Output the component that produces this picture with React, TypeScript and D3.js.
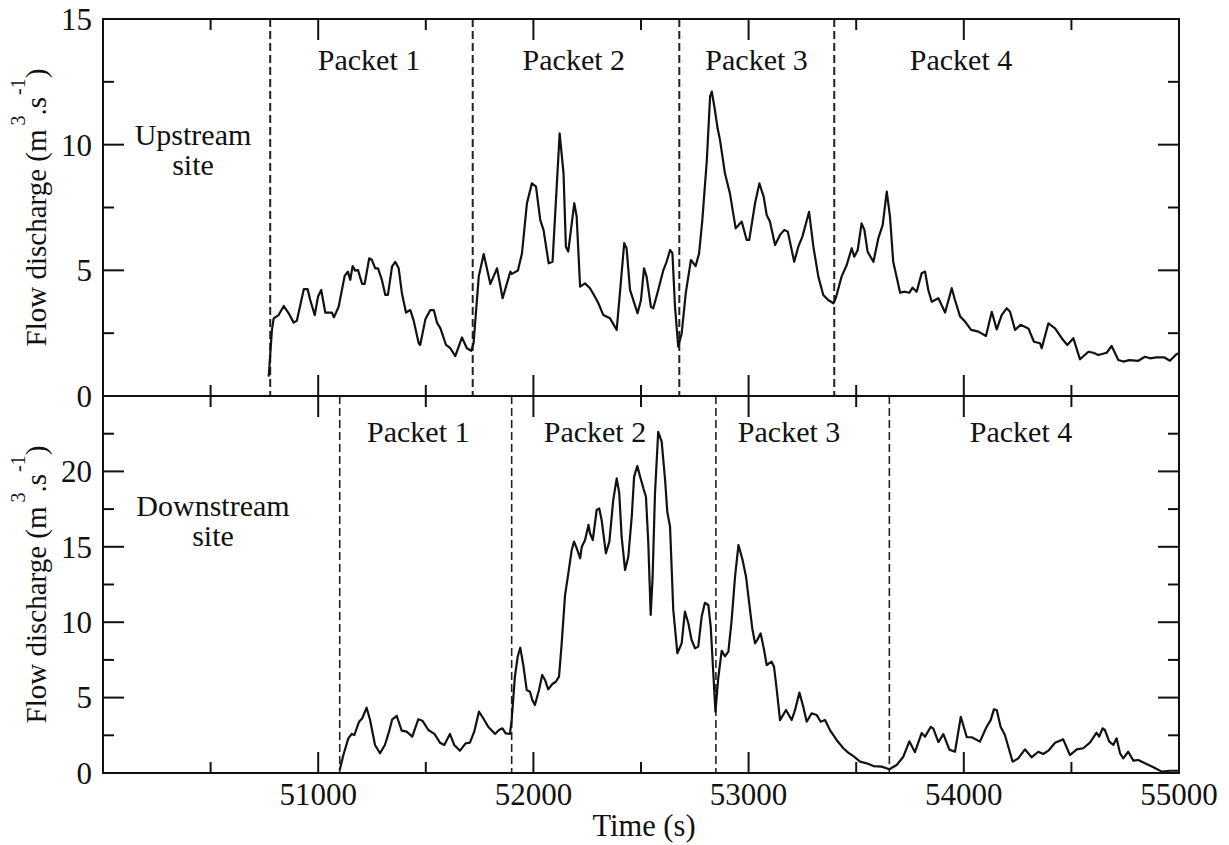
import React from "react";
import * as d3 from "d3";

const upstream: [number, number][] = [
  [50770, 0.77], [50785, 2.63], [50793, 3.09], [50816, 3.22], [50840, 3.58], [50863, 3.29],
  [50886, 2.92], [50901, 3.0], [50933, 4.25], [50951, 4.25], [50963, 3.82], [50984, 3.22],
  [50999, 3.95], [51014, 4.22], [51033, 3.32], [51064, 3.32], [51073, 3.13], [51095, 3.55],
  [51123, 4.78], [51138, 4.95], [51149, 4.62], [51160, 5.17], [51172, 4.99], [51185, 5.01],
  [51204, 4.46], [51216, 4.46], [51237, 5.48], [51250, 5.41], [51265, 5.08], [51278, 5.08],
  [51296, 4.62], [51312, 4.02], [51324, 4.02], [51343, 5.15], [51358, 5.34], [51374, 5.08],
  [51389, 4.09], [51408, 3.32], [51428, 3.42], [51443, 3.02], [51467, 2.1], [51474, 2.03],
  [51498, 3.05], [51521, 3.42], [51537, 3.42], [51552, 2.92], [51568, 2.69], [51594, 2.03],
  [51614, 1.9], [51637, 1.59], [51668, 2.33], [51691, 1.9], [51711, 1.8], [51722, 2.1],
  [51746, 4.75], [51769, 5.65], [51800, 4.46], [51831, 5.08], [51857, 3.89], [51893, 4.95],
  [51900, 4.86], [51928, 4.99], [51947, 5.68], [51970, 7.67], [51993, 8.46], [52012, 8.33],
  [52032, 7.0], [52047, 6.61], [52071, 5.28], [52089, 5.34], [52122, 10.45], [52140, 8.86],
  [52151, 5.94], [52162, 5.75], [52190, 7.67], [52201, 7.14], [52217, 4.35], [52240, 4.48],
  [52263, 4.29], [52286, 3.95], [52302, 3.69], [52325, 3.22], [52356, 3.09], [52387, 2.63],
  [52402, 4.09], [52422, 6.08], [52433, 5.88], [52449, 4.22], [52484, 3.29], [52500, 3.82],
  [52514, 5.08], [52526, 4.75], [52546, 3.55], [52557, 3.49], [52580, 4.22], [52604, 5.01],
  [52619, 5.34], [52635, 5.81], [52646, 5.68], [52658, 3.55], [52673, 1.96], [52689, 2.49],
  [52708, 4.09], [52732, 5.41], [52754, 5.17], [52770, 5.68], [52785, 7.0], [52806, 9.39],
  [52821, 11.91], [52829, 12.11], [52841, 11.51], [52856, 10.65], [52867, 10.19], [52890, 8.86],
  [52913, 8.07], [52940, 6.67], [52968, 6.94], [52991, 6.21], [53003, 6.21], [53030, 7.67],
  [53050, 8.46], [53070, 7.93], [53084, 7.2], [53099, 6.94], [53123, 6.01], [53146, 6.41],
  [53166, 6.61], [53182, 6.54], [53212, 5.34], [53231, 5.94], [53250, 6.34], [53281, 7.33],
  [53301, 5.94], [53324, 4.75], [53347, 4.02], [53370, 3.82], [53394, 3.69], [53405, 3.89],
  [53432, 4.75], [53456, 5.21], [53479, 5.88], [53491, 5.54], [53507, 5.81], [53525, 6.87],
  [53538, 6.61], [53553, 5.74], [53580, 5.34], [53603, 6.28], [53623, 6.8], [53642, 8.13],
  [53657, 7.14], [53672, 5.34], [53691, 4.62], [53704, 4.11], [53727, 4.15], [53747, 4.11],
  [53762, 4.31], [53781, 4.15], [53804, 4.88], [53820, 4.95], [53835, 4.22], [53851, 3.75],
  [53882, 3.89], [53913, 3.32], [53944, 4.29], [53959, 3.82], [53983, 3.16], [54006, 2.96],
  [54034, 2.63], [54068, 2.56], [54103, 2.39], [54130, 3.35], [54153, 2.65], [54176, 3.22],
  [54199, 3.49], [54215, 3.35], [54238, 2.63], [54264, 2.83], [54300, 2.69], [54326, 2.16],
  [54354, 2.1], [54362, 1.9], [54393, 2.89], [54424, 2.69], [54455, 2.3], [54481, 2.03],
  [54509, 2.3], [54540, 1.46], [54579, 1.76], [54602, 1.72], [54625, 1.63], [54664, 1.72],
  [54687, 1.99], [54718, 1.43], [54741, 1.37], [54769, 1.43], [54811, 1.4], [54842, 1.56],
  [54865, 1.5], [54896, 1.54], [54930, 1.54], [54958, 1.4], [54989, 1.67], [55000, 1.7],
];

const downstream: [number, number][] = [
  [51100, 0.2], [51117, 1.19], [51140, 2.3], [51156, 2.59], [51168, 2.52], [51190, 3.4],
  [51205, 3.63], [51225, 4.33], [51241, 3.51], [51264, 1.86], [51287, 1.31], [51310, 1.86],
  [51329, 2.74], [51344, 3.56], [51365, 3.78], [51388, 2.81], [51411, 2.74], [51437, 2.41],
  [51465, 3.56], [51484, 3.47], [51512, 2.85], [51540, 2.59], [51566, 2.01], [51586, 1.86],
  [51612, 2.59], [51632, 1.86], [51659, 1.48], [51685, 1.97], [51705, 2.01], [51725, 2.74],
  [51747, 4.07], [51767, 3.63], [51790, 3.07], [51822, 2.59], [51840, 2.85], [51856, 2.96],
  [51871, 2.63], [51891, 2.59], [51899, 3.51], [51914, 6.39], [51927, 7.71], [51939, 8.31],
  [51953, 7.16], [51969, 5.5], [51984, 5.39], [51995, 4.84], [52007, 4.51], [52026, 5.5],
  [52041, 6.5], [52054, 6.17], [52069, 5.55], [52088, 5.9], [52104, 6.05], [52119, 6.39],
  [52131, 8.5], [52147, 11.8], [52162, 13.2], [52178, 14.79], [52189, 15.34], [52204, 14.79],
  [52217, 14.24], [52225, 15.01], [52240, 15.45], [52256, 16.45], [52263, 15.9], [52276, 15.45],
  [52294, 17.44], [52306, 17.55], [52317, 16.78], [52337, 14.57], [52353, 15.34], [52371, 18.1],
  [52387, 19.54], [52399, 18.55], [52410, 15.67], [52426, 13.46], [52441, 14.34], [52457, 17.0],
  [52468, 19.65], [52483, 20.36], [52496, 19.65], [52511, 18.88], [52523, 18.32], [52534, 15.23],
  [52545, 10.48], [52554, 13.02], [52565, 18.55], [52580, 22.63], [52596, 21.97], [52612, 19.43],
  [52622, 17.33], [52635, 16.33], [52650, 10.81], [52669, 7.94], [52689, 8.6], [52704, 10.7],
  [52720, 9.93], [52735, 8.82], [52751, 8.27], [52766, 8.38], [52782, 10.37], [52797, 11.29],
  [52813, 11.14], [52824, 9.7], [52836, 6.61], [52846, 4.07], [52859, 6.3], [52875, 8.1],
  [52890, 7.74], [52906, 8.05], [52921, 10.1], [52937, 13.02], [52953, 15.12], [52972, 14.12],
  [52988, 13.02], [53003, 11.25], [53017, 9.6], [53030, 8.6], [53040, 8.82], [53056, 9.26],
  [53072, 8.16], [53084, 7.16], [53107, 7.38], [53118, 7.05], [53131, 5.5], [53146, 3.51],
  [53174, 4.18], [53200, 3.51], [53216, 4.18], [53236, 5.33], [53254, 4.4], [53270, 3.4],
  [53293, 3.96], [53316, 3.85], [53335, 3.4], [53355, 3.51], [53378, 2.85], [53409, 2.19],
  [53440, 1.64], [53463, 1.35], [53490, 1.08], [53518, 0.75], [53549, 0.64], [53580, 0.46],
  [53618, 0.42], [53654, 0.25], [53688, 0.53], [53719, 1.08], [53747, 2.1], [53773, 1.38],
  [53804, 2.65], [53820, 2.41], [53846, 3.05], [53858, 2.96], [53882, 2.05], [53905, 2.58],
  [53933, 1.55], [53959, 1.41], [53986, 3.73], [54014, 2.37], [54037, 2.37], [54075, 2.08],
  [54106, 3.07], [54125, 3.51], [54140, 4.22], [54153, 4.18], [54171, 3.07], [54191, 2.52],
  [54227, 0.75], [54253, 0.97], [54284, 1.57], [54315, 1.04], [54346, 1.41], [54369, 1.26],
  [54393, 1.48], [54424, 2.01], [54462, 2.23], [54493, 1.19], [54525, 1.57], [54555, 1.64],
  [54586, 2.01], [54617, 2.67], [54629, 2.41], [54645, 2.96], [54656, 2.85], [54676, 2.08],
  [54695, 1.86], [54710, 2.3], [54726, 1.31], [54741, 0.97], [54764, 1.41], [54788, 0.82],
  [54811, 0.86], [54842, 0.64], [54881, 0.38], [54920, 0.09], [54958, 0.15], [54981, 0.15],
  [55000, 0.15],
];

// packet boundaries (dashed lines) and label positions, in seconds
const upBounds = [50777, 51718, 52678, 53398];
const downBounds = [51100, 51899, 52848, 53654];
const packetNames = ["Packet 1", "Packet 2", "Packet 3", "Packet 4"];
const upLabelAt = [51236, 52188, 53037, 53987];
const downLabelAt = [51465, 52286, 53188, 54266];

const xMajor = [51000, 52000, 53000, 54000, 55000];
const xMinor = [50500, 51500, 52500, 53500, 54500];
const upMajor = [0, 5, 10, 15];
const upMinor = [2.5, 7.5, 12.5];
const downMajor = [0, 5, 10, 15, 20, 25];
const downMinor = [2.5, 7.5, 12.5, 17.5, 22.5];
const downLabels = [0, 5, 10, 15, 20];

const sizing = { width: 1229, height: 845, left: 103, right: 1179, top: 19, mid: 396, bottom: 773 };
const ink = "#111";
const font = "'Liberation Serif', 'Times New Roman', serif";
const MAJ = 21;
const MIN = 11;

const x = d3.scaleLinear().domain([50000, 55000]).range([sizing.left, sizing.right]);

function YTitle(props: { cy: number }) {
  return (
    <text
      transform={`translate(46,${props.cy}) rotate(-90)`}
      textAnchor="middle"
      style={{ fontFamily: font, fontSize: 29, fill: ink }}
    >
      Flow discharge (m
      <tspan dx={4} dy={-21} fontSize={20}>3</tspan>
      <tspan dy={21}>.s</tspan>
      <tspan dx={2} dy={-21} fontSize={20}>-1</tspan>
      <tspan dy={21}>)</tspan>
    </text>
  );
}

function Panel(props: {
  data: [number, number][];
  y: d3.ScaleLinear<number, number>;
  bounds: number[];
  labelAt: number[];
  major: number[];
  minor: number[];
  labels: number[];
  site: string[];
  siteX: number;
  siteY: number;
  labelY: number;
  dashWidth: number;
}) {
  const { y } = props;
  const [y0, y1] = y.range(); // bottom, top
  const line = d3
    .line<[number, number]>()
    .x((d) => x(d[0]))
    .y((d) => y(d[1]));

  const xt = xMajor.map((t) => ({ t, len: MAJ })).concat(xMinor.map((t) => ({ t, len: MIN })));
  const yt = props.major.map((v) => ({ v, len: MAJ })).concat(props.minor.map((v) => ({ v, len: MIN })));

  return (
    <g>
      {props.bounds.map((t, i) => (
        <line
          key={`b${i}`}
          x1={x(t)}
          x2={x(t)}
          y1={y1}
          y2={y0}
          stroke="#222"
          strokeWidth={props.dashWidth}
          strokeDasharray="8,4"
        />
      ))}
      <path d={line(props.data) || ""} fill="none" stroke={ink} strokeWidth={2.2} strokeLinejoin="round" />

      {xt.map((d, i) => (
        <g key={`xt${i}`}>
          <line x1={x(d.t)} x2={x(d.t)} y1={y1} y2={y1 + d.len} stroke={ink} strokeWidth={2} />
          <line x1={x(d.t)} x2={x(d.t)} y1={y0} y2={y0 - d.len} stroke={ink} strokeWidth={2} />
        </g>
      ))}
      {yt.map((d, i) => (
        <g key={`yt${i}`}>
          <line x1={sizing.left} x2={sizing.left + d.len} y1={y(d.v)} y2={y(d.v)} stroke={ink} strokeWidth={2} />
          <line x1={sizing.right} x2={sizing.right - d.len} y1={y(d.v)} y2={y(d.v)} stroke={ink} strokeWidth={2} />
        </g>
      ))}
      <rect
        x={sizing.left}
        y={y1}
        width={sizing.right - sizing.left}
        height={y0 - y1}
        fill="none"
        stroke={ink}
        strokeWidth={2}
      />
      {props.labels.map((v) => (
        <text
          key={`yl${v}`}
          x={92}
          y={y(v)}
          dy="0.35em"
          textAnchor="end"
          style={{ fontFamily: font, fontSize: 31, fill: ink }}
        >
          {v}
        </text>
      ))}
      {props.labelAt.map((t, i) => (
        <text
          key={`pl${i}`}
          x={x(t)}
          y={props.labelY}
          textAnchor="middle"
          style={{ fontFamily: font, fontSize: 30, fill: ink }}
        >
          {packetNames[i]}
        </text>
      ))}
      {props.site.map((s, i) => (
        <text
          key={`s${i}`}
          x={props.siteX}
          y={props.siteY + i * 30}
          textAnchor="middle"
          style={{ fontFamily: font, fontSize: 30, fill: ink }}
        >
          {s}
        </text>
      ))}
      <YTitle cy={(y0 + y1) / 2} />
    </g>
  );
}

export default function App() {
  const yUp = d3.scaleLinear().domain([0, 15]).range([sizing.mid, sizing.top]);
  const yDown = d3.scaleLinear().domain([0, 25]).range([sizing.bottom, sizing.mid]);

  return (
    <svg
      width={sizing.width}
      height={sizing.height}
      style={{ position: "absolute", left: 0, top: 0, background: "white" }}
    >
      <Panel
        data={upstream}
        y={yUp}
        bounds={upBounds}
        labelAt={upLabelAt}
        major={upMajor}
        minor={upMinor}
        labels={upMajor}
        site={["Upstream", "site"]}
        siteX={193}
        siteY={145}
        labelY={70}
        dashWidth={2}
      />
      <Panel
        data={downstream}
        y={yDown}
        bounds={downBounds}
        labelAt={downLabelAt}
        major={downMajor}
        minor={downMinor}
        labels={downLabels}
        site={["Downstream", "site"]}
        siteX={213}
        siteY={516}
        labelY={442}
        dashWidth={1.6}
      />
      {xMajor.map((t) => (
        <text
          key={`xl${t}`}
          x={x(t)}
          y={805}
          textAnchor="middle"
          style={{ fontFamily: font, fontSize: 31, fill: ink }}
        >
          {t}
        </text>
      ))}
      <text
        x={(sizing.left + sizing.right) / 2 + 3}
        y={836}
        textAnchor="middle"
        style={{ fontFamily: font, fontSize: 30.5, fill: ink }}
      >
        Time (s)
      </text>
    </svg>
  );
}
